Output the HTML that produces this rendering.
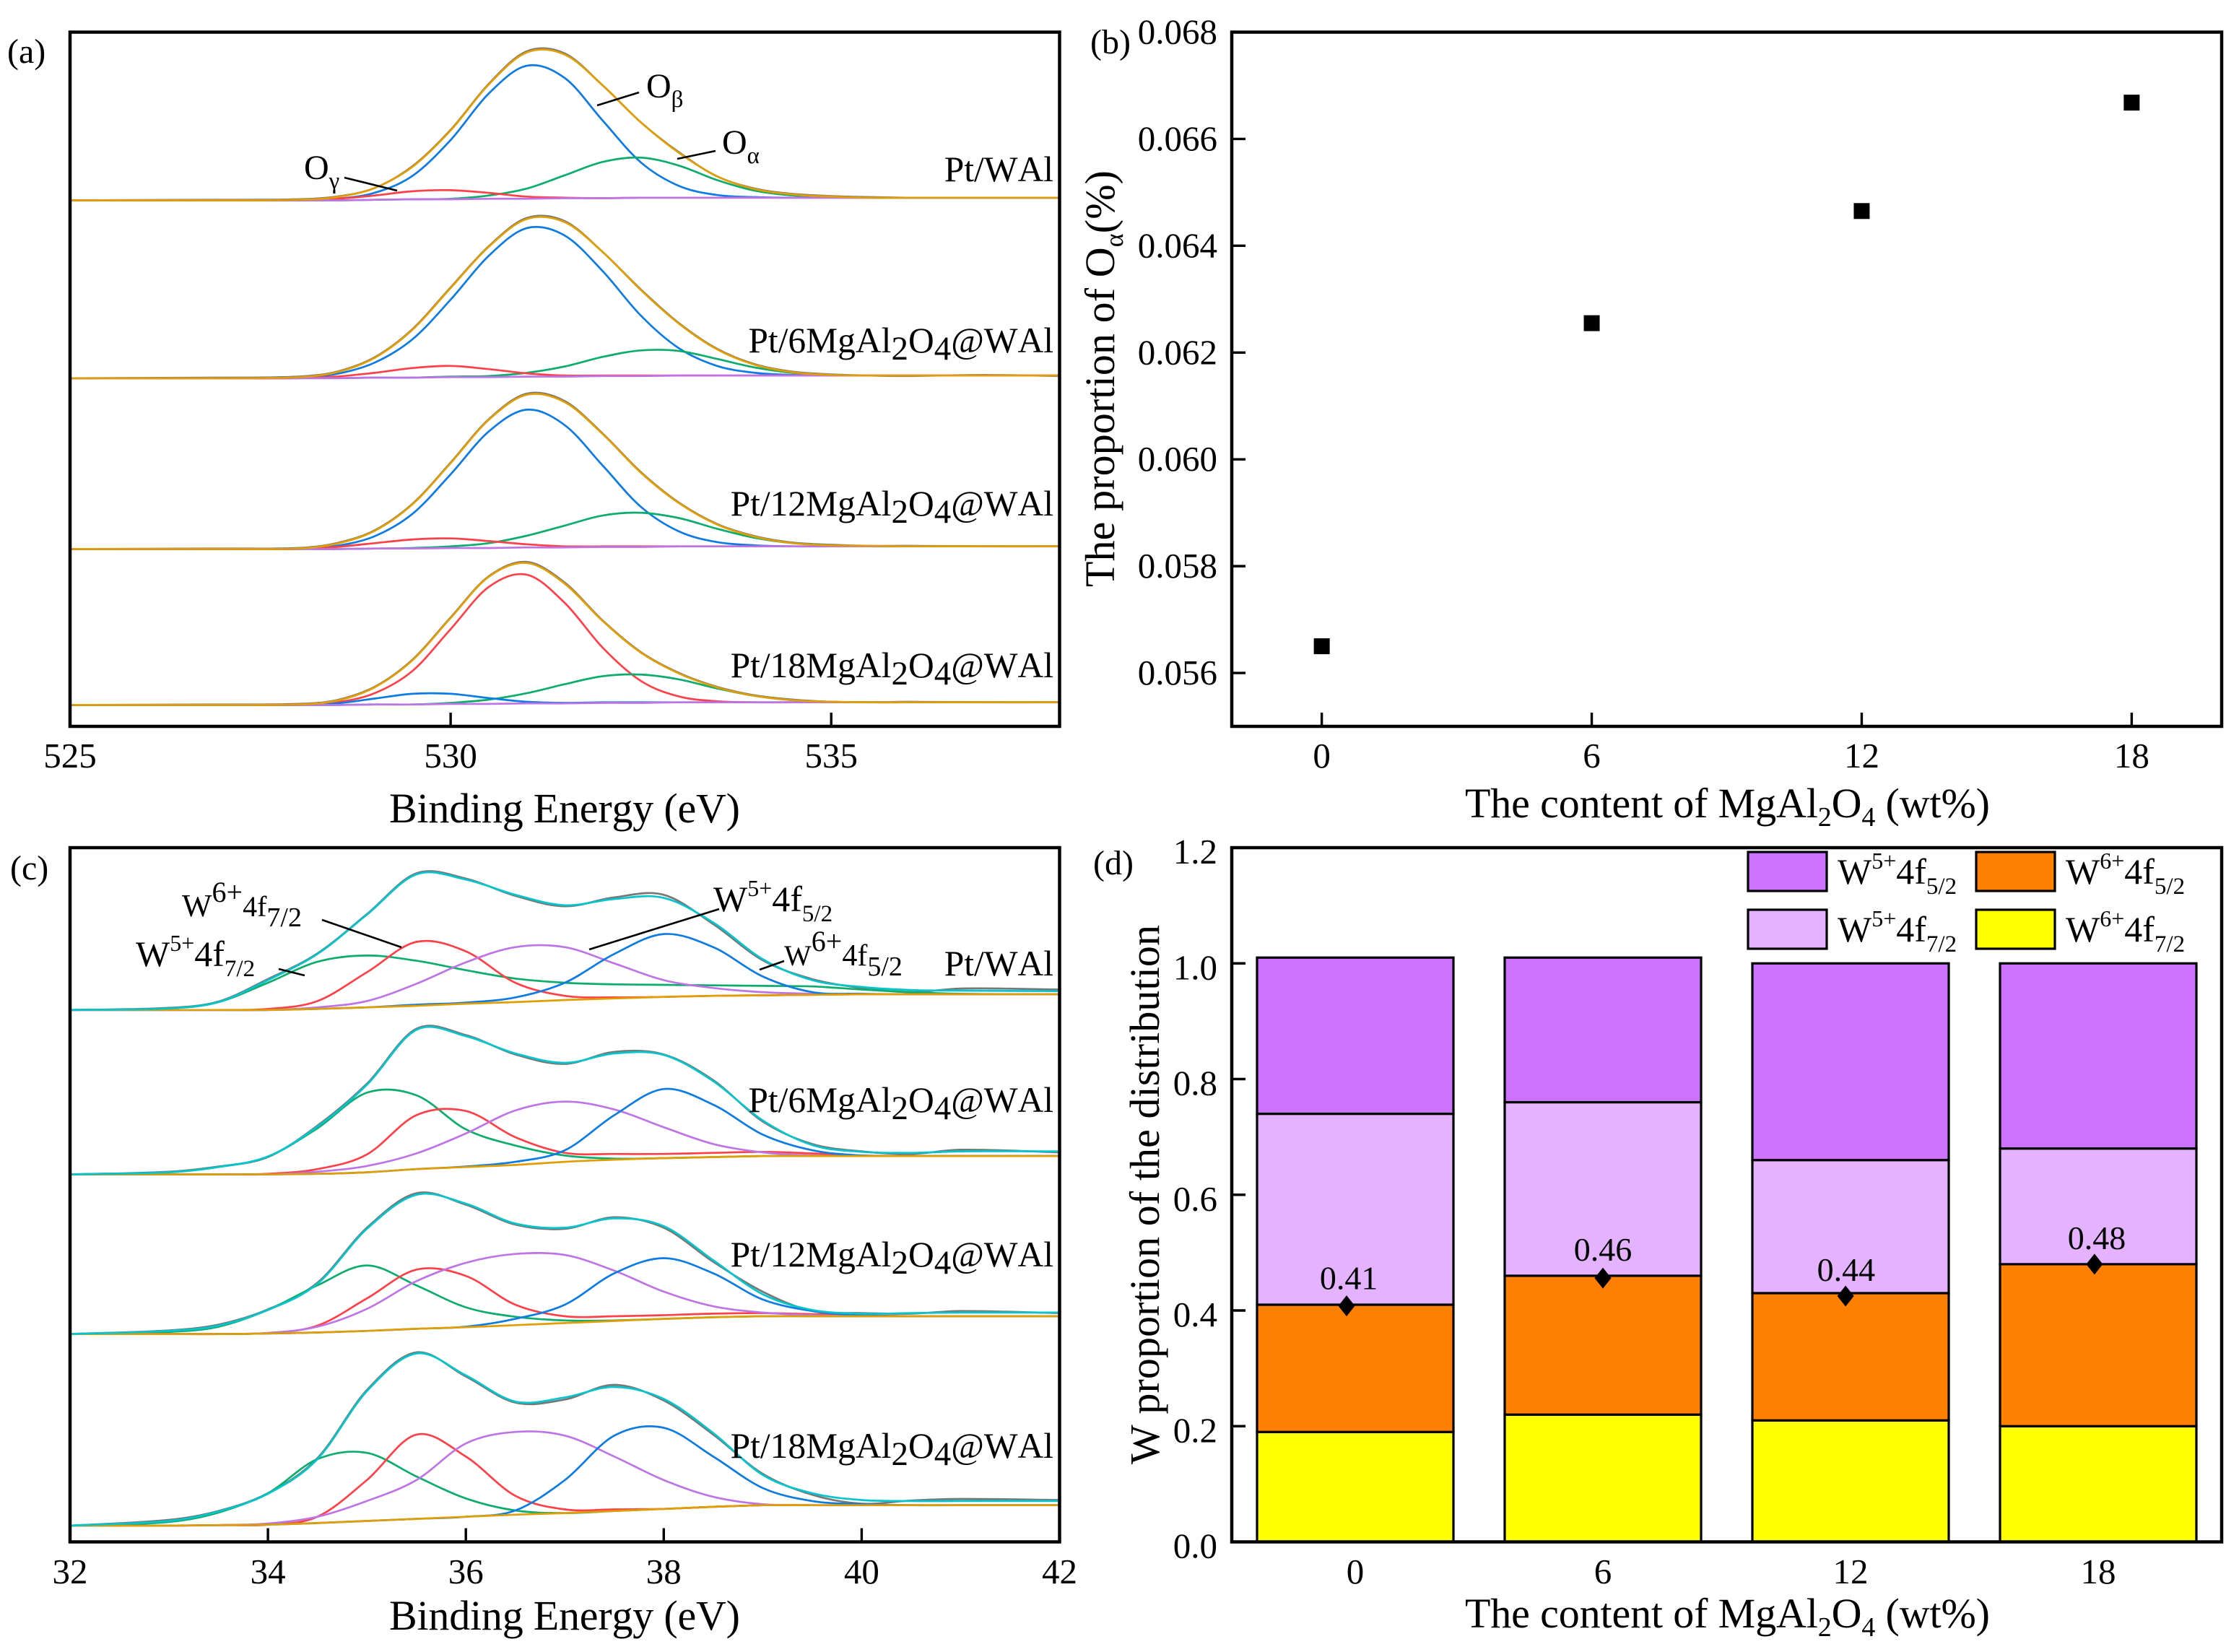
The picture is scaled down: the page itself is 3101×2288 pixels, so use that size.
<!DOCTYPE html>
<html lang="en">
<head>
<meta charset="utf-8">
<title>XPS spectra and W distribution charts</title>
<style>
html,body{margin:0;padding:0;background:#fff;width:3101px;height:2288px;overflow:hidden}
svg{display:block}
text{font-family:"Liberation Serif","Noto Serif CJK SC",serif;fill:#000;font-kerning:none}
</style>
</head>
<body>
<svg id="fig" xmlns="http://www.w3.org/2000/svg" width="3101" height="2288" viewBox="0 0 3101 2288">
<rect width="3101" height="2288" fill="#fff"/>
<g id="layer-a"></g>
<g id="layer-b"></g>
<g id="layer-c"></g>
<g id="layer-d"></g>

<g font-size="48">
<text x="10" y="87">(a)</text>
<text x="1510" y="74">(b)</text>
<text x="14" y="1218">(c)</text>
<text x="1514" y="1211">(d)</text>
</g>

<g font-size="58">
<text x="539" y="1139" textLength="486">Binding Energy (eV)</text>
<text x="539" y="2257" textLength="486">Binding Energy (eV)</text>
<text x="2029" y="1132" textLength="727">The content of MgAl<tspan dy="12" font-size="38">2</tspan><tspan dy="-12">O</tspan><tspan dy="12" font-size="38">4</tspan><tspan dy="-12"> (wt%)</tspan></text>
<text x="2029" y="2254" textLength="727">The content of MgAl<tspan dy="12" font-size="38">2</tspan><tspan dy="-12">O</tspan><tspan dy="12" font-size="38">4</tspan><tspan dy="-12"> (wt%)</tspan></text>
<text transform="translate(1543 813) rotate(-90)" textLength="577">The proportion of O<tspan dy="12" font-size="36">α</tspan><tspan dy="-12">(%)</tspan></text>
<text transform="translate(1605 2028) rotate(-90)" textLength="747">W proportion of the distribution</text>
</g>

<g font-size="49.5" text-anchor="end">
<text x="1459" y="251">Pt/WAl</text>
<text x="1459" y="488">Pt/6MgAl<tspan dy="10" font-size="47">2</tspan><tspan dy="-10">O</tspan><tspan dy="10" font-size="47">4</tspan><tspan dy="-10">@WAl</tspan></text>
<text x="1459" y="714">Pt/12MgAl<tspan dy="10" font-size="47">2</tspan><tspan dy="-10">O</tspan><tspan dy="10" font-size="47">4</tspan><tspan dy="-10">@WAl</tspan></text>
<text x="1459" y="938">Pt/18MgAl<tspan dy="10" font-size="47">2</tspan><tspan dy="-10">O</tspan><tspan dy="10" font-size="47">4</tspan><tspan dy="-10">@WAl</tspan></text>
</g>

<g font-size="49.5" text-anchor="end">
<text x="1459" y="1351">Pt/WAl</text>
<text x="1459" y="1540">Pt/6MgAl<tspan dy="10" font-size="47">2</tspan><tspan dy="-10">O</tspan><tspan dy="10" font-size="47">4</tspan><tspan dy="-10">@WAl</tspan></text>
<text x="1459" y="1754">Pt/12MgAl<tspan dy="10" font-size="47">2</tspan><tspan dy="-10">O</tspan><tspan dy="10" font-size="47">4</tspan><tspan dy="-10">@WAl</tspan></text>
<text x="1459" y="2019">Pt/18MgAl<tspan dy="10" font-size="47">2</tspan><tspan dy="-10">O</tspan><tspan dy="10" font-size="47">4</tspan><tspan dy="-10">@WAl</tspan></text>
</g>

<g font-size="48">
<text x="895" y="135">O<tspan dy="13" font-size="33">β</tspan></text>
<line x1="827" y1="146" x2="885" y2="128" stroke="#000" stroke-width="2.6"/>
<text x="1000" y="213">O<tspan dy="13" font-size="33">α</tspan></text>
<line x1="938" y1="220" x2="991" y2="209" stroke="#000" stroke-width="2.6"/>
<text x="421" y="248">O<tspan dy="13" font-size="33">γ</tspan></text>
<line x1="477" y1="246" x2="550" y2="264" stroke="#000" stroke-width="2.6"/>
</g>

<g>
<text x="252" y="1269" font-size="44">W<tspan dy="-20" font-size="40">6+</tspan><tspan dy="20" font-size="40">4f</tspan><tspan dy="14" font-size="38">7/2</tspan></text>
<line x1="446" y1="1274" x2="556" y2="1312" stroke="#000" stroke-width="2.6"/>
<text x="188" y="1338" font-size="50">W<tspan dy="-21" font-size="32">5+</tspan><tspan dy="21" font-size="50">4f</tspan><tspan dy="14" font-size="33">7/2</tspan></text>
<line x1="386" y1="1342" x2="422" y2="1351" stroke="#000" stroke-width="2.6"/>
<text x="988" y="1262" font-size="50">W<tspan dy="-21" font-size="32">5+</tspan><tspan dy="21" font-size="50">4f</tspan><tspan dy="14" font-size="33">5/2</tspan></text>
<line x1="816" y1="1315" x2="996" y2="1259" stroke="#000" stroke-width="2.6"/>
<text x="1086" y="1337" font-size="40">W<tspan dy="-20" font-size="40">6+</tspan><tspan dy="20" font-size="42">4f</tspan><tspan dy="14" font-size="38">5/2</tspan></text>
<line x1="1052" y1="1343" x2="1086" y2="1331" stroke="#000" stroke-width="2.6"/>
</g>

<script>
// ---------- Panel (a): O 1s spectra ----------
const aEnergy = [525,527,528,528.5,529,529.5,530,530.5,531,531.5,532,532.5,533,533.5,534,534.5,535,535.5,536,537,538];
const aTicks = [525,530,535];

const a1Raw = [985,986,987,992,1008,1049,1117,1203,1264,1260,1200,1131,1075,1030,1007,997,993,991,990,990,990];
const a1Env = [985,985,986,991,1008,1048,1116,1202,1262,1258,1200,1131,1074,1030,1006,996,992,990,990,990,990];
const a1Beta = [985,985,985,988,999,1031,1098,1185,1237,1214,1134,1056,1012,995,991,990,990,990,990,990,990];
const a1Alpha = [985,985,985,985,986,987,988,994,1007,1032,1057,1065,1050,1023,1003,994,991,990,990,990,990];
const a1Gamma = [985,985,985,988,994,1002,1004,999,992,990,989,990,990,990,990,990,990,990,990,990,990];
const a1Base = [985,985,985,985,986,987,987,988,988,989,989,990,990,990,990,990,990,990,990,990,990];

const a2Raw = [652,653,655,664,691,744,822,899,952,946,888,818,755,707,678,664,659,657,656,658,656];
const a2Env = [652,652,654,663,690,743,821,898,950,944,888,817,754,706,677,663,658,657,657,657,657];
const a2Beta = [652,652,654,660,681,725,799,881,933,919,852,769,708,675,662,658,657,657,657,657,657];
const a2Alpha = [652,652,652,652,653,653,655,656,662,674,692,704,703,688,672,662,658,657,657,657,657];
const a2Gamma = [652,652,652,655,662,671,675,669,661,657,657,657,657,657,657,657,657,657,657,657,657];
const a2Base = [652,652,652,652,653,653,654,654,655,655,656,656,657,657,657,657,657,657,657,657,657];

const a3Raw = [332,333,334,343,367,417,494,575,623,609,548,476,419,379,356,344,340,338,338,337,337];
const a3Env = [332,332,333,342,366,416,493,574,621,607,547,475,418,378,355,343,339,338,337,337,337];
const a3Beta = [332,332,333,338,356,398,472,552,593,564,488,411,365,345,339,337,337,337,337,337,337];
const a3Alpha = [332,332,332,332,333,334,337,343,357,376,395,400,390,370,353,343,339,337,337,337,337];
const a3Gamma = [332,332,332,336,343,350,352,347,341,337,337,337,337,337,337,337,337,337,337,337,337];
const a3Base = [332,332,332,332,333,333,334,334,335,335,336,336,337,337,337,337,337,337,337,337,337];

const a4Raw = [40,41,42,49,74,125,204,281,308,269,198,139,100,74,58,50,46,45,46,45,45];
const a4Env = [40,40,41,48,73,124,203,280,306,267,197,138,99,73,57,49,46,45,45,45,45];
const a4Beta = [40,40,41,45,62,104,182,261,284,231,147,85,56,47,45,45,45,45,45,45,45];
const a4Alpha = [40,40,40,40,41,41,44,50,62,79,94,97,88,71,57,49,46,45,45,45,45];
const a4Gamma = [40,40,40,43,52,61,61,53,46,44,45,45,45,45,45,45,45,45,45,45,45];
const a4Base = [40,40,40,40,41,41,42,42,43,43,44,44,45,45,45,45,45,45,45,45,45];

// ---------- Panel (b): O-alpha proportion ----------
const bContent = [0,6,12,18];
const bProportion = [0.0565,0.06255,0.06465,0.06668];
const bXTicks = [0,6,12,18];
const bYTicks = [0.056,0.058,0.060,0.062,0.064,0.066,0.068];
const bYTickLabels = ['0.056','0.058','0.060','0.062','0.064','0.066','0.068'];

// ---------- Panel (c): W 4f spectra ----------
const cEnergy = [32,33,33.5,34,34.5,35,35.5,36,36.5,37,37.5,38,38.5,39,39.5,40,40.5,41,42];
const cTicks = [32,34,36,38,40,42];

const c1Raw = [1016,1020,1032,1075,1124,1199,1277,1267,1234,1214,1231,1236,1180,1111,1075,1058,1050,1057,1055];
const c1Env = [1016,1019,1031,1073,1123,1198,1275,1265,1236,1216,1228,1230,1183,1113,1073,1060,1054,1053,1052];
const c1Red = [1016,1016,1016,1018,1033,1088,1146,1128,1068,1043,1040,1041,1043,1044,1045,1046,1046,1046,1046];
const c1Green = [1016,1019,1031,1068,1108,1120,1110,1092,1076,1068,1065,1064,1063,1062,1061,1055,1050,1047,1046];
const c1Purple = [1016,1016,1016,1016,1021,1033,1066,1107,1136,1136,1105,1073,1058,1050,1047,1046,1046,1046,1046];
const c1Blue = [1016,1016,1016,1016,1018,1021,1026,1030,1040,1068,1123,1161,1136,1080,1050,1047,1046,1046,1046];
const c1Base = [1016,1016,1016,1016,1018,1021,1024,1028,1031,1035,1038,1041,1043,1044,1045,1046,1046,1046,1046];

const c2Raw = [702,707,717,735,795,875,980,968,931,913,936,931,882,803,760,746,741,749,744];
const c2Env = [702,706,716,736,793,873,978,966,933,915,933,930,880,805,758,745,743,746,746];
const c2Red = [702,702,702,703,712,740,815,823,773,743,741,741,743,745,742,738,737,737,737];
const c2Green = [702,706,716,736,790,858,853,788,757,738,732,733,735,737,737,737,737,737,737];
const c2Purple = [702,702,702,702,707,718,742,780,824,841,826,792,760,744,738,737,737,737,737];
const c2Blue = [702,702,702,702,703,706,712,717,726,748,815,865,835,778,748,738,737,737,737];
const c2Base = [702,702,702,702,703,706,712,716,720,726,730,733,735,737,737,737,737,737,737];

const c3Raw = [397,404,415,444,495,600,666,644,606,598,620,600,535,478,441,437,436,441,437];
const c3Env = [397,403,413,443,493,598,663,646,608,600,618,603,538,473,443,436,437,438,438];
const c3Red = [397,397,397,399,413,465,520,508,453,431,431,433,436,437,435,433,431,431,431];
const c3Green = [397,401,411,443,490,528,490,448,430,423,423,426,429,431,431,431,431,431,431];
const c3Purple = [397,397,397,399,411,445,498,533,550,548,518,478,450,438,433,431,431,431,431];
const c3Blue = [397,397,397,398,400,403,407,411,426,453,513,542,513,463,441,433,431,431,431];
const c3Base = [397,397,397,398,400,403,407,410,414,418,422,426,429,431,431,431,431,431,431];

const c4Raw = [31,42,59,93,160,290,362,316,266,272,300,270,205,130,90,73,79,82,80];
const c4Env = [31,40,58,92,158,288,360,318,268,276,296,273,208,128,93,80,78,78,78];
const c4Red = [31,31,32,33,48,118,205,163,88,62,62,63,67,70,70,70,70,70,70];
const c4Green = [31,38,56,93,158,170,125,83,60,55,59,63,67,70,70,70,70,70,70];
const c4Purple = [31,31,32,35,48,78,118,188,210,203,163,118,86,72,70,70,70,70,70];
const c4Blue = [31,31,32,33,36,40,44,48,60,118,203,218,163,103,78,72,70,70,70];
const c4Base = [31,31,32,33,36,40,44,48,52,55,59,63,67,70,70,70,70,70,70];

// ---------- Panel (d): W distribution ----------
const dCategories = ['0','6','12','18'];
const dW6f72 = [0.19,0.22,0.21,0.20];
const dW6f52 = [0.22,0.24,0.22,0.28];
const dW5f72 = [0.33,0.30,0.23,0.20];
const dW5f52 = [0.27,0.25,0.34,0.32];
const dRatio = [0.408,0.456,0.425,0.48];
const dRatioLabels = ['0.41','0.46','0.44','0.48'];
const dRatioX = [-0.035,0,-0.02,-0.015];
const dRatioLabelX = [-0.026,0,-0.018,-0.006];
const dRatioLabelLift = [0.029,0.030,0.026,0.026];
const dYTicks = [0,0.2,0.4,0.6,0.8,1.0,1.2];
const dYTickLabels = ['0.0','0.2','0.4','0.6','0.8','1.0','1.2'];

// ---------- scales and helpers ----------
const NS = 'http://www.w3.org/2000/svg';
const top1 = 44.5, bot1 = 1006, top2 = 1174, bot2 = 2135.5;
const leftL = 97, rightL = 1467.5, leftR = 1706, rightR = 3077;

const xA = e => leftL + (e - 525) / 13 * (rightL - leftL);
const yA = v => bot1 - v / 1300 * (bot1 - top1);
const xB = c => leftR + (c + 2) / 22 * (rightR - leftR);
const yB = p => bot1 - (p - 0.055) / 0.013 * (bot1 - top1);
const xC = e => leftL + (e - 32) / 10 * (rightL - leftL);
const yC = v => bot2 - v / 1326 * (bot2 - top2);
const xD = i => 1877 + i * 343;
const yD = v => bot2 - v / 1.2 * (bot2 - top2);

function mk(tag, attrs, parent) {
  const el = document.createElementNS(NS, tag);
  for (const k in attrs) el.setAttribute(k, attrs[k]);
  parent.appendChild(el);
  return el;
}

function splinePath(xs, ys, fx, fy) {
  const p = xs.map((x, i) => [fx(x), fy(ys[i])]);
  let d = 'M' + p[0][0].toFixed(1) + ' ' + p[0][1].toFixed(1);
  for (let i = 0; i < p.length - 1; i++) {
    const a = p[Math.max(0, i - 1)], b = p[i], c = p[i + 1], e = p[Math.min(p.length - 1, i + 2)];
    const dx = c[0] - b[0];
    const m1 = (c[1] - a[1]) / ((c[0] - a[0]) || 1);
    const m2 = (e[1] - b[1]) / ((e[0] - b[0]) || 1);
    d += 'C' + (b[0] + dx / 3).toFixed(1) + ' ' + (b[1] + m1 * dx / 3).toFixed(1) + ' ' +
         (c[0] - dx / 3).toFixed(1) + ' ' + (c[1] - m2 * dx / 3).toFixed(1) + ' ' +
         c[0].toFixed(1) + ' ' + c[1].toFixed(1);
  }
  return d;
}

function drawCurve(parent, name, xs, ys, fx, fy, color) {
  const path = mk('path', {d: splinePath(xs, ys, fx, fy), fill: 'none', stroke: color, 'stroke-width': 2.7, 'stroke-linejoin': 'round'}, parent);
  
  
}

function drawFrame(parent, name, l, t, r, b) {
  const f = mk('rect', {x: l, y: t, width: r - l, height: b - t, fill: 'none', stroke: '#000', 'stroke-width': 4.5}, parent);
  
  
}

function drawTick(parent, name, x1, y1, x2, y2) {
  const t = mk('line', {x1: x1, y1: y1, x2: x2, y2: y2, stroke: '#000', 'stroke-width': 3.4}, parent);
  
  
}

function drawLabel(parent, name, x, y, text, anchor, size) {
  const t = mk('text', {x: x, y: y, 'text-anchor': anchor, 'font-size': size}, parent);
  
  
  t.textContent = text;
}

const colBlue = '#0C7BE3', colRed = '#FF4048', colGreen = '#0CAD6C', colPurple = '#BF74E6',
      colOrange = '#E19E04', colCyan = '#06C4CC', colGray = '#777777';

// ---------- draw panel (a) ----------
const layerA = document.getElementById('layer-a');
const aSpectra = [
  ['pt-wal', a1Raw, a1Beta, a1Alpha, a1Gamma, a1Base, a1Env, colBlue, colRed],
  ['pt-6', a2Raw, a2Beta, a2Alpha, a2Gamma, a2Base, a2Env, colBlue, colRed],
  ['pt-12', a3Raw, a3Beta, a3Alpha, a3Gamma, a3Base, a3Env, colBlue, colRed],
  ['pt-18', a4Raw, a4Beta, a4Alpha, a4Gamma, a4Base, a4Env, colRed, colBlue]
];
aSpectra.forEach(s => {
  drawCurve(layerA, 'o1s-raw-' + s[0], aEnergy, s[1], xA, yA, colGray);
  drawCurve(layerA, 'o1s-beta-' + s[0], aEnergy, s[2], xA, yA, s[7]);
  drawCurve(layerA, 'o1s-alpha-' + s[0], aEnergy, s[3], xA, yA, colGreen);
  drawCurve(layerA, 'o1s-gamma-' + s[0], aEnergy, s[4], xA, yA, s[8]);
  drawCurve(layerA, 'o1s-baseline-' + s[0], aEnergy, s[5], xA, yA, colPurple);
  drawCurve(layerA, 'o1s-envelope-' + s[0], aEnergy, s[6], xA, yA, colOrange);
});
drawFrame(layerA, 'panel-a-frame', leftL, top1, rightL, bot1);
aTicks.forEach(t => {
  drawTick(layerA, 'panel-a-x-tick-' + t, xA(t), bot1, xA(t), bot1 - 19);
  drawLabel(layerA, 'panel-a-x-tick-label-' + t, xA(t), 1063, String(t), 'middle', 49);
});

// ---------- draw panel (b) ----------
const layerB = document.getElementById('layer-b');
bContent.forEach((c, i) => {
  const pt = mk('rect', {x: xB(c) - 11, y: yB(bProportion[i]) - 11, width: 22, height: 22, fill: '#000'}, layerB);
  
  
});
drawFrame(layerB, 'panel-b-frame', leftR, top1, rightR, bot1);
bXTicks.forEach(t => {
  drawTick(layerB, 'panel-b-x-tick-' + t, xB(t), bot1, xB(t), bot1 - 19);
  drawLabel(layerB, 'panel-b-x-tick-label-' + t, xB(t), 1063, String(t), 'middle', 49);
});
bYTicks.forEach((t, i) => {
  drawTick(layerB, 'panel-b-y-tick-' + bYTickLabels[i], leftR, yB(t), leftR + 19, yB(t));
  drawLabel(layerB, 'panel-b-y-tick-label-' + bYTickLabels[i], 1686, yB(t) + 16, bYTickLabels[i], 'end', 49);
});

// ---------- draw panel (c) ----------
const layerC = document.getElementById('layer-c');
const cSpectra = [
  ['pt-wal', c1Raw, c1Green, c1Red, c1Purple, c1Blue, c1Base, c1Env],
  ['pt-6', c2Raw, c2Green, c2Red, c2Purple, c2Blue, c2Base, c2Env],
  ['pt-12', c3Raw, c3Green, c3Red, c3Purple, c3Blue, c3Base, c3Env],
  ['pt-18', c4Raw, c4Green, c4Red, c4Purple, c4Blue, c4Base, c4Env]
];
cSpectra.forEach(s => {
  drawCurve(layerC, 'w4f-raw-' + s[0], cEnergy, s[1], xC, yC, colGray);
  drawCurve(layerC, 'w4f-green-peak-' + s[0], cEnergy, s[2], xC, yC, colGreen);
  drawCurve(layerC, 'w4f-red-peak-' + s[0], cEnergy, s[3], xC, yC, colRed);
  drawCurve(layerC, 'w4f-purple-peak-' + s[0], cEnergy, s[4], xC, yC, colPurple);
  drawCurve(layerC, 'w4f-blue-peak-' + s[0], cEnergy, s[5], xC, yC, colBlue);
  drawCurve(layerC, 'w4f-baseline-' + s[0], cEnergy, s[6], xC, yC, colOrange);
  drawCurve(layerC, 'w4f-envelope-' + s[0], cEnergy, s[7], xC, yC, colCyan);
});
drawFrame(layerC, 'panel-c-frame', leftL, top2, rightL, bot2);
cTicks.forEach(t => {
  drawTick(layerC, 'panel-c-x-tick-' + t, xC(t), bot2, xC(t), bot2 - 19);
  drawLabel(layerC, 'panel-c-x-tick-label-' + t, xC(t), 2193, String(t), 'middle', 49);
});

// ---------- draw panel (d) ----------
const layerD = document.getElementById('layer-d');
const dStacks = [
  ['w6-4f72', dW6f72, '#FFFF00'],
  ['w6-4f52', dW6f52, '#FF8000'],
  ['w5-4f72', dW5f72, '#E5B2FF'],
  ['w5-4f52', dW5f52, '#CC72FF']
];
dCategories.forEach((cat, i) => {
  let acc = 0;
  dStacks.forEach(st => {
    const y0 = yD(acc);
    acc += st[1][i];
    const y1 = yD(acc);
    const seg = mk('rect', {x: xD(i) - 136, y: y1, width: 272, height: y0 - y1, fill: st[2], stroke: '#000', 'stroke-width': 3.2}, layerD);
    
    
  });
});
drawFrame(layerD, 'panel-d-frame', leftR, top2, rightR, bot2);
dYTicks.forEach((t, i) => {
  drawTick(layerD, 'panel-d-y-tick-' + dYTickLabels[i], leftR, yD(t), leftR + 19, yD(t));
  drawLabel(layerD, 'panel-d-y-tick-label-' + dYTickLabels[i], 1686, yD(t) + 22, dYTickLabels[i], 'end', 49);
});
dCategories.forEach((cat, i) => {
  drawLabel(layerD, 'panel-d-x-tick-label-' + cat, xD(i), 2193, cat, 'middle', 49);
  const cx = xD(i + dRatioX[i]);
  const cy = yD(dRatio[i]);
  const marker = mk('path', {d: 'M' + cx + ' ' + (cy - 14.5) + 'L' + (cx + 11.5) + ' ' + cy + 'L' + cx + ' ' + (cy + 14.5) + 'L' + (cx - 11.5) + ' ' + cy + 'Z', fill: '#000'}, layerD);
  
  
  drawLabel(layerD, 'ratio-value-' + cat, xD(i + dRatioLabelX[i]), yD(dRatio[i] + dRatioLabelLift[i]), dRatioLabels[i], 'middle', 46);
});

// legend
const legendEntries = [
  ['w5-4f52', '#CC72FF', '5+', '5/2', 2421, 1180],
  ['w6-4f52', '#FF8000', '6+', '5/2', 2737, 1180],
  ['w5-4f72', '#E5B2FF', '5+', '7/2', 2421, 1260],
  ['w6-4f72', '#FFFF00', '6+', '7/2', 2737, 1260]
];
legendEntries.forEach(le => {
  const sw = mk('rect', {x: le[4], y: le[5], width: 109, height: 54, fill: le[1], stroke: '#000', 'stroke-width': 3.2}, layerD);
  
  
  const t = mk('text', {x: le[4] + 124, y: le[5] + 44, 'font-size': 50}, layerD);
  
  
  t.appendChild(document.createTextNode('W'));
  const sup = mk('tspan', {dy: -21, 'font-size': 32}, t);
  sup.textContent = le[2];
  const mid = mk('tspan', {dy: 21}, t);
  mid.textContent = '4f';
  const sub = mk('tspan', {dy: 14, 'font-size': 33}, t);
  sub.textContent = le[3];
});
</script>
</svg>
</body>
</html>
